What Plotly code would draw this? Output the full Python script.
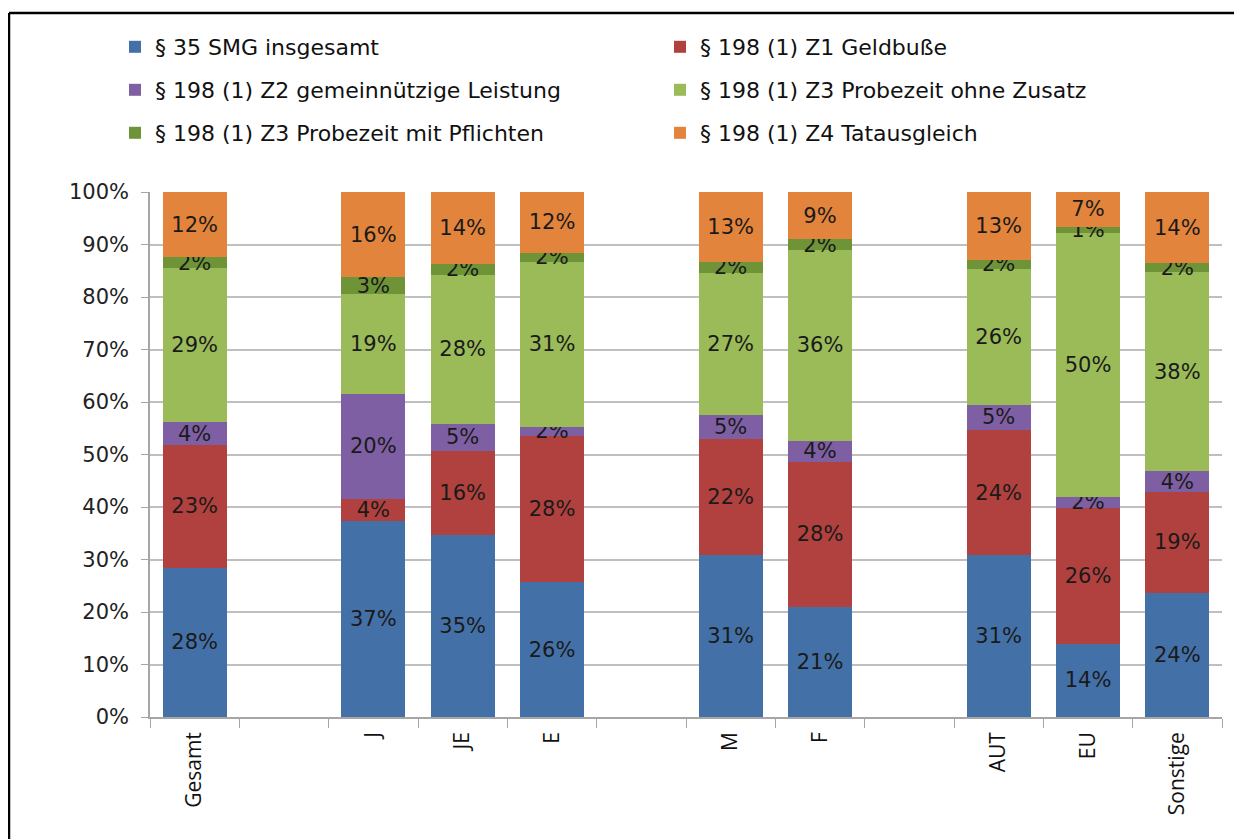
import plotly.graph_objects as go

# slots on the category axis (blank ones are the gaps between groups)
categories = ["Gesamt", " ", "J", "JE", "E", "  ", "M", "F", "   ", "AUT", "EU", "Sonstige"]
groups = ["Gesamt", "J", "JE", "E", "M", "F", "AUT", "EU", "Sonstige"]

smg_35 = [28.4, 37.4, 34.6, 25.7, 30.8, 21.0, 30.9, 14.0, 23.6]
z1_geldbusse = [23.4, 4.2, 16.1, 27.8, 22.1, 27.6, 23.7, 25.9, 19.3]
z2_gemeinnuetzig = [4.3, 19.9, 5.2, 1.8, 4.6, 4.0, 4.9, 2.1, 3.9]
z3_ohne_zusatz = [29.4, 19.0, 28.3, 31.4, 27.1, 36.4, 25.8, 50.1, 38.0]
z3_mit_pflichten = [2.1, 3.3, 2.1, 1.7, 2.1, 2.0, 1.8, 1.3, 1.6]
z4_tatausgleich = [12.4, 16.2, 13.7, 11.6, 13.3, 9.0, 12.9, 6.6, 13.6]

series = [
    ("§ 35 SMG insgesamt", smg_35, "#4470a8", "legend"),
    ("§ 198 (1) Z1 Geldbuße", z1_geldbusse, "#b0413e", "legend"),
    ("§ 198 (1) Z2 gemeinnützige Leistung", z2_gemeinnuetzig, "#7f5fa3", "legend2"),
    ("§ 198 (1) Z3 Probezeit ohne Zusatz", z3_ohne_zusatz, "#9bbb59", "legend2"),
    ("§ 198 (1) Z3 Probezeit mit Pflichten", z3_mit_pflichten, "#6f9438", "legend3"),
    ("§ 198 (1) Z4 Tatausgleich", z4_tatausgleich, "#e3843c", "legend3"),
]

WIDE = "DejaVu Sans"
NARROW = "Open Sans"

fig = go.Figure()
for name, vals, color, leg in series:
    fig.add_trace(go.Bar(
        x=groups, y=vals, name=name, legend=leg,
        marker=dict(color=color, line=dict(width=0)),
        width=0.72,
        texttemplate="%{y:.0f}%",
        textposition="inside", insidetextanchor="middle", textangle=0,
        textfont=dict(family=WIDE, size=21, color="#1a1a1a"),
    ))

# page body has an 8px margin, so work in screen pixels and shift
OFF = 8
W, H = 1242 - OFF, 839 - OFF
L, R, T, B = 150 - OFF, 1242 - 1222, 192 - OFF, 839 - 717
pw, ph = W - L - R, H - T - B

def px_x(x):
    return (x - OFF - L) / pw

def px_y(y):
    return (T + ph - (y - OFF)) / ph

legend_common = dict(orientation="h", xanchor="left", yanchor="middle",
                     x=px_x(115), entrywidth=500, entrywidthmode="pixels",
                     font=dict(family=WIDE, size=22, color="#111111"),
                     bgcolor="rgba(0,0,0,0)", traceorder="normal")

fig.update_layout(
    width=W, height=H,
    margin=dict(l=L, r=R, t=T, b=B),
    barmode="stack",
    paper_bgcolor="white", plot_bgcolor="white",
    font=dict(family=WIDE, size=20, color="#222222"),
    uniformtext=dict(minsize=21, mode="show"),
    legend=dict(y=px_y(47), **legend_common),
    legend2=dict(y=px_y(90), **legend_common),
    legend3=dict(y=px_y(133), **legend_common),
    xaxis=dict(
        type="category", categoryorder="array", categoryarray=categories,
        range=[-0.5, len(categories) - 0.5],
        tickson="boundaries", ticks="outside", ticklen=9, tickcolor="#a6a6a6",
        tickangle=-90, showline=True, linecolor="#a6a6a6", linewidth=1.5,
        showgrid=False, ticklabelstandoff=5,
        tickfont=dict(family=NARROW, size=21, color="#111111"),
    ),
    yaxis=dict(
        range=[0, 100], dtick=10, ticksuffix="%",
        ticks="outside", ticklen=7, tickcolor="#a6a6a6",
        showline=True, linecolor="#a6a6a6", linewidth=1.5,
        showgrid=True, gridcolor="#bfbfbf", gridwidth=1.5,
        ticklabelstandoff=8,
        tickfont=dict(family=WIDE, size=21, color="#222222"),
        zeroline=False,
    ),
    shapes=[
        dict(type="line", xref="paper", yref="paper",
             x0=px_x(9), x1=px_x(1250), y0=px_y(13), y1=px_y(13),
             line=dict(color="black", width=2.5)),
        dict(type="line", xref="paper", yref="paper",
             x0=px_x(9), x1=px_x(9), y0=px_y(13), y1=px_y(850),
             line=dict(color="black", width=2.5)),
    ],
)

fig.write_html("out.html")
